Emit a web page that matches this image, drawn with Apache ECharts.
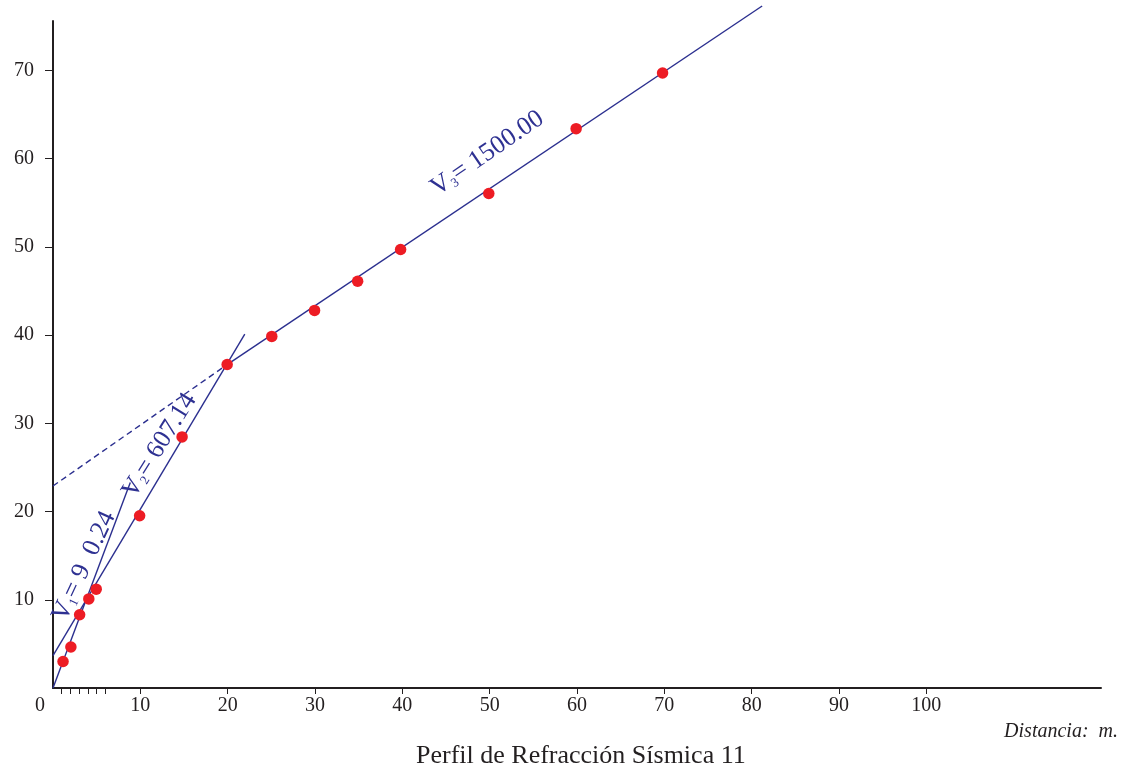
<!DOCTYPE html>
<html><head><meta charset="utf-8">
<script src="https://cdn.jsdelivr.net/npm/echarts@6/dist/echarts.min.js"></script>
<style>html,body{margin:0;padding:0;background:#fff}#c{width:1126px;height:772px}</style>
</head><body><div id="c"></div>
<script>
// ---- data ----
const distances = [1.15, 2.05, 3.05, 4.1, 4.95, 9.92, 14.78, 19.94, 25.05, 29.95, 34.88, 39.8, 49.9, 59.9, 69.8];
const times     = [3.0, 4.65, 8.3, 10.1, 11.2, 19.53, 28.46, 36.66, 39.85, 42.8, 46.1, 49.7, 56.05, 63.4, 69.7];
const lineV1 = [[0, 0], [8.85, 23.3]];
const lineV2 = [[0, 3.67], [21.96, 40.1]];
const lineV3 = [[19.94, 36.66], [81.2, 77.3]];
const lineV3Back = [[0, 22.9], [19.94, 36.66]];
const xTickValues = [1, 2, 3, 4, 5, 6, 10, 20, 30, 40, 50, 60, 70, 80, 90, 100];
const xLabelValues = [0, 10, 20, 30, 40, 50, 60, 70, 80, 90, 100];
const yTickValues = [10, 20, 30, 40, 50, 60, 70];
const velocityNames = ['1', '2', '3'];
const velocityTexts = ['= 9  0.24', '= 607.14', '= 1500.00'];
const titleText = 'Perfil de Refracción Sísmica 11';
const axisNameText = 'Distancia:  m.';

// ---- chart ----
const FONT = 'Liberation Serif';
const AX = '#231f20';
const LINE = '#2b2f8f';
const TXT = '#2e3192';
const chart = echarts.init(document.getElementById('c'), null, {renderer: 'canvas'});
const pts = distances.map((d, i) => [d, times[i]]);

function lineSeries(data, dashed) {
  return {
    type: 'line', data: data, symbol: 'none', clip: false, silent: true,
    lineStyle: {color: LINE, width: 1.4, type: dashed ? [6, 4] : 'solid'}, z: 2
  };
}

chart.setOption({
  animation: false,
  backgroundColor: '#ffffff',
  grid: {left: 53, right: 25, top: 21, bottom: 84},
  title: [
    {text: titleText, left: 416, top: 743, padding: 0,
     textStyle: {fontFamily: FONT, fontSize: 26, fontWeight: 'normal', color: AX}},
    {text: axisNameText, right: 8, top: 722, padding: 0,
     textStyle: {fontFamily: FONT, fontSize: 20, fontWeight: 'normal', fontStyle: 'italic', color: AX}}
  ],
  xAxis: {
    type: 'value', min: 0, max: 120,
    splitLine: {show: false},
    axisLine: {lineStyle: {color: AX, width: 2}},
    axisTick: {show: true, length: 6, customValues: xTickValues, lineStyle: {color: AX, width: 1}},
    axisLabel: {
      customValues: xLabelValues, margin: 8, color: AX, fontFamily: FONT, fontSize: 20,
      formatter: v => v === 0 ? '{z|0}' : String(v),
      rich: {z: {fontFamily: FONT, fontSize: 20, color: AX, padding: [0, 26, 0, 0]}}
    }
  },
  yAxis: {
    type: 'value', min: 0, max: 75.6,
    splitLine: {show: false},
    axisLine: {show: true, lineStyle: {color: AX, width: 2}},
    axisTick: {show: true, length: 8, customValues: yTickValues, lineStyle: {color: AX, width: 1}},
    axisLabel: {customValues: yTickValues, margin: 19, color: AX, fontFamily: FONT, fontSize: 20}
  },
  series: [
    lineSeries(lineV1, false),
    lineSeries(lineV2, false),
    lineSeries(lineV3, false),
    lineSeries(lineV3Back, true),
    {type: 'scatter', data: pts, symbolSize: 11.5, itemStyle: {color: '#ed1c24', opacity: 1}, z: 5}
  ]
});

// velocity labels anchored in data coordinates
const labelAnchors = [[3.35, 13.9], [12.0, 27.6], [49.6, 60.8]];
const labelAngles = [65, 58, 34.5];
const graphics = labelAnchors.map((a, i) => {
  const p = chart.convertToPixel({gridIndex: 0}, a);
  return {
    type: 'text', x: p[0], y: p[1], rotation: labelAngles[i] * Math.PI / 180, z: 10,
    style: {
      text: '{v|V}{s|' + velocityNames[i] + '}{v|' + velocityTexts[i] + '}',
      align: 'center', verticalAlign: 'middle', fill: TXT,
      rich: {
        v: {fontFamily: FONT, fontSize: 26, fill: TXT, lineHeight: 30, verticalAlign: 'bottom'},
        s: {fontFamily: FONT, fontSize: 13, fill: TXT, lineHeight: 11, verticalAlign: 'bottom'}
      }
    }
  };
});
chart.setOption({graphic: graphics});
</script></body></html>
